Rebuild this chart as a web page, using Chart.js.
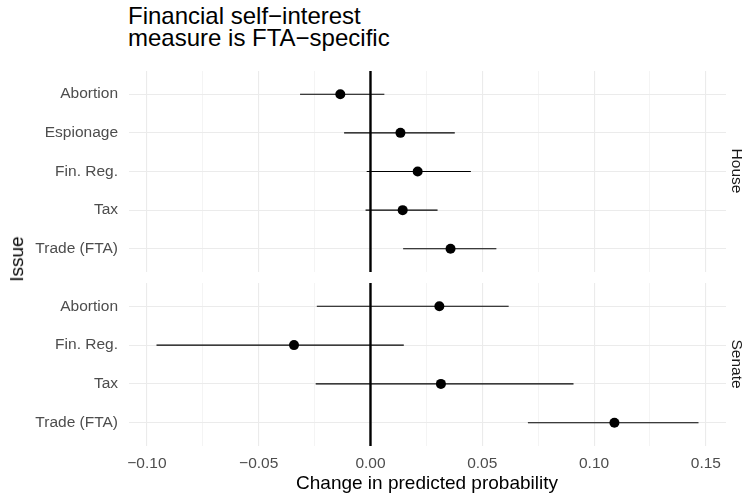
<!DOCTYPE html>
<html>
<head>
<meta charset="utf-8">
<script src="https://cdn.jsdelivr.net/npm/chart.js@4.4.1/dist/chart.umd.min.js"></script>
<style>
  body { margin: 0; width: 748px; height: 495px; background: #fff; position: relative; overflow: hidden;
         font-family: "Liberation Sans", Arial, Helvetica, sans-serif; }
  canvas { position: absolute; left: 0; }
  .txt { position: absolute; white-space: nowrap; line-height: 1.15; }
  .center { transform: translate(-50%, -50%); }
  #title { left: 128px; top: 5px; font-size: 24px; line-height: 22px; color: #000; }
  #ytitle { left: 17px; top: 259px; font-size: 19px; color: #000; transform: translate(-50%, -50%) rotate(-90deg); }
  #xtitle { left: 427px; top: 483px; font-size: 19px; color: #000; }
  .strip { left: 737px; font-size: 15.5px; color: #1A1A1A; transform: translate(-50%, -50%) rotate(90deg); }
</style>
</head>
<body>
<div id="title" class="txt">Financial self−interest<br>measure is FTA−specific</div>
<canvas id="house" width="748" height="201" style="top:71px"></canvas>
<canvas id="senate" width="748" height="200" style="top:283px"></canvas>
<div id="ytitle" class="txt">Issue</div>
<div id="xtitle" class="txt center">Change in predicted probability</div>
<div class="txt strip" style="top:171px">House</div>
<div class="txt strip" style="top:364px">Senate</div>
<script>
// estimates with lower / upper bounds, one row per issue
const houseIssues = ['Abortion', 'Espionage', 'Fin. Reg.', 'Tax', 'Trade (FTA)'];
const houseEst  = [-0.0135, 0.0134, 0.0211, 0.0144, 0.0358];
const houseLow  = [-0.0315, -0.0118, -0.0017, -0.0022, 0.0146];
const houseHigh = [0.0062, 0.0377, 0.0449, 0.0300, 0.0563];

const senateIssues = ['Abortion', 'Fin. Reg.', 'Tax', 'Trade (FTA)'];
const senateEst  = [0.0308, -0.0342, 0.0315, 0.1091];
const senateLow  = [-0.0240, -0.0957, -0.0245, 0.0704];
const senateHigh = [0.0618, 0.0149, 0.0908, 0.1467];

const xTicks = [-0.1, -0.075, -0.05, -0.025, 0, 0.025, 0.05, 0.075, 0.1, 0.125, 0.15];
const xMin = -0.108, xMax = 0.159;
const refLine = 0;

const gridColor = '#EBEBEB';
const labelColor = '#4D4D4D';
const tickFont = {family: 'Liberation Sans', size: 15.5};

function isMajor(v) {
  return Math.abs(Math.round(v / 0.05) * 0.05 - v) < 1e-9;
}
function fmt(v) {
  return (v < -1e-9 ? '\u2212' : '') + Math.abs(v).toFixed(2);
}
// chart.js pads the area by half a label plus tick padding; panels here run edge to edge
function noPad(s) {
  s.paddingTop = 0; s.paddingBottom = 0; s.paddingLeft = 0; s.paddingRight = 0;
}

function makePanel(id, issues, est, low, high, showX) {
  const top = -0.6, bottom = issues.length - 0.4;
  const datasets = [];
  // vertical reference line at zero
  datasets.push({
    data: [{x: refLine, y: top}, {x: refLine, y: bottom}],
    showLine: true, borderColor: '#000', borderWidth: 2.4, pointRadius: 0, order: 3
  });
  // interval segments
  issues.forEach((_, i) => {
    datasets.push({
      data: [{x: low[i], y: i}, {x: high[i], y: i}],
      showLine: true, borderColor: '#000', borderWidth: 1.1, pointRadius: 0, order: 2
    });
  });
  // point estimates
  datasets.push({
    data: est.map((v, i) => ({x: v, y: i})),
    backgroundColor: '#000', borderWidth: 0, pointRadius: 5, order: 1
  });

  return new Chart(document.getElementById(id), {
    type: 'scatter',
    data: {datasets},
    options: {
      responsive: false,
      animation: false,
      devicePixelRatio: 1,
      layout: {autoPadding: false, padding: {left: 0, right: 22, top: 0, bottom: 0}},
      plugins: {legend: {display: false}, tooltip: {enabled: false}},
      scales: {
        x: {
          type: 'linear', min: xMin, max: xMax,
          afterBuildTicks: s => { s.ticks = xTicks.map(v => ({value: v})); },
          afterFit: s => { s.height = showX ? 37 : 0; noPad(s); },
          border: {display: false},
          grid: {
            color: gridColor, drawTicks: false,
            lineWidth: c => isMajor(c.tick.value) ? 1.1 : 0.55
          },
          ticks: {
            display: showX, autoSkip: false, maxRotation: 0, padding: 8,
            color: labelColor, font: tickFont,
            callback: v => isMajor(v) ? fmt(v) : ''
          }
        },
        y: {
          type: 'linear', reverse: true, min: top, max: bottom,
          afterBuildTicks: s => { s.ticks = issues.map((_, i) => ({value: i})); },
          afterFit: s => { s.width = 129; noPad(s); },
          border: {display: false},
          grid: {color: gridColor, lineWidth: 1.1, drawTicks: false},
          ticks: {
            autoSkip: false, padding: 11,
            color: labelColor, font: tickFont,
            callback: v => issues[v]
          }
        }
      }
    }
  });
}

makePanel('house', houseIssues, houseEst, houseLow, houseHigh, false);
makePanel('senate', senateIssues, senateEst, senateLow, senateHigh, true);
</script>
</body>
</html>
